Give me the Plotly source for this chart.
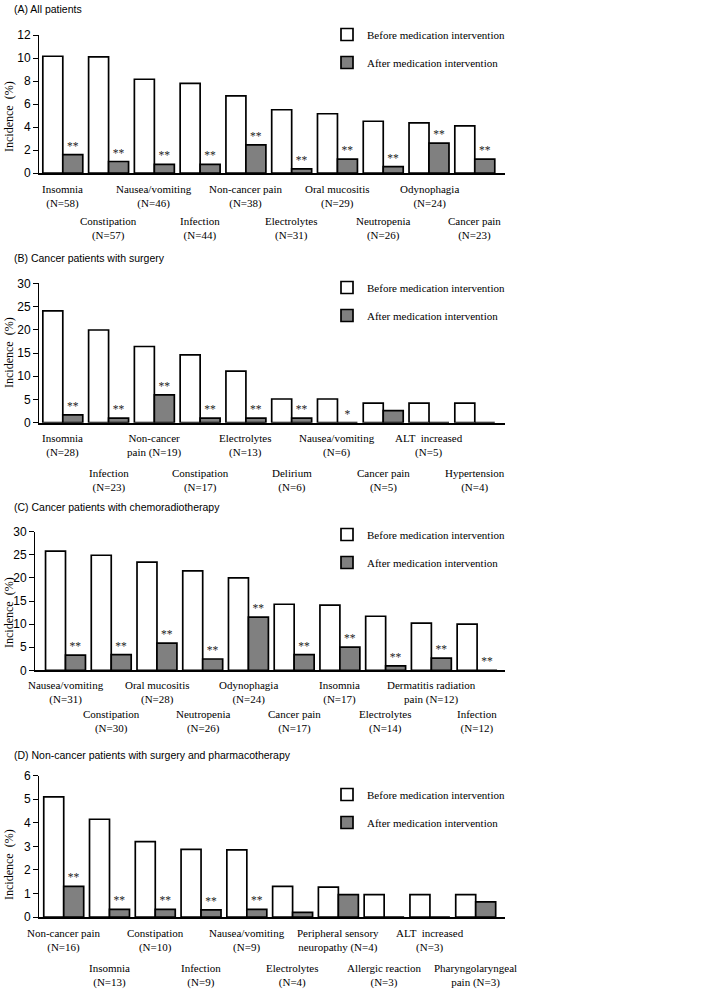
import plotly.graph_objects as go

# ---------------- data ----------------
A_cats = ["Insomnia", "Constipation", "Nausea/vomiting", "Infection", "Non-cancer pain",
          "Electrolytes", "Oral mucositis", "Neutropenia", "Odynophagia", "Cancer pain"]
A_labels = ["Insomnia<br>(N=58)", "Constipation<br>(N=57)", "Nausea/vomiting<br>(N=46)",
            "Infection<br>(N=44)", "Non-cancer pain<br>(N=38)", "Electrolytes<br>(N=31)",
            "Oral mucositis<br>(N=29)", "Neutropenia<br>(N=26)", "Odynophagia<br>(N=24)",
            "Cancer pain<br>(N=23)"]
A_before = [10.15, 10.1, 8.15, 7.8, 6.7, 5.5, 5.15, 4.5, 4.35, 4.1]
A_after = [1.6, 1.0, 0.75, 0.75, 2.45, 0.35, 1.2, 0.55, 2.6, 1.2]
A_sig = ["**", "**", "**", "**", "**", "**", "**", "**", "**", "**"]

B_cats = ["Insomnia", "Infection", "Non-cancer pain", "Constipation", "Electrolytes",
          "Delirium", "Nausea/vomiting", "Cancer pain", "ALT increased", "Hypertension"]
B_labels = ["Insomnia<br>(N=28)", "Infection<br>(N=23)", "Non-cancer<br>pain (N=19)",
            "Constipation<br>(N=17)", "Electrolytes<br>(N=13)", "Delirium<br>(N=6)",
            "Nausea/vomiting<br>(N=6)", "Cancer pain<br>(N=5)", "ALT  increased<br>(N=5)",
            "Hypertension<br>(N=4)"]
B_before = [24.05, 19.95, 16.4, 14.6, 11.1, 5.1, 5.1, 4.2, 4.2, 4.2]
B_after = [1.7, 1.0, 6.0, 1.0, 1.0, 1.0, 0, 2.6, 0, 0]
B_sig = ["**", "**", "**", "**", "**", "**", "*", "", "", ""]

C_cats = ["Nausea/vomiting", "Constipation", "Oral mucositis", "Neutropenia", "Odynophagia",
          "Cancer pain", "Insomnia", "Electrolytes", "Dermatitis radiation pain", "Infection"]
C_labels = ["Nausea/vomiting<br>(N=31)", "Constipation<br>(N=30)", "Oral mucositis<br>(N=28)",
            "Neutropenia<br>(N=26)", "Odynophagia<br>(N=24)", "Cancer pain<br>(N=17)",
            "Insomnia<br>(N=17)", "Electrolytes<br>(N=14)", "Dermatitis radiation<br>pain (N=12)",
            "Infection<br>(N=12)"]
C_before = [25.8, 24.9, 23.4, 21.5, 20.0, 14.3, 14.1, 11.7, 10.2, 10.0]
C_after = [3.3, 3.4, 5.9, 2.45, 11.5, 3.4, 5.0, 0.95, 2.65, 0]
C_sig = ["**", "**", "**", "**", "**", "**", "**", "**", "**", "**"]

D_cats = ["Non-cancer pain", "Insomnia", "Constipation", "Infection", "Nausea/vomiting",
          "Electrolytes", "Peripheral sensory neuropathy", "Allergic reaction",
          "ALT increased", "Pharyngolaryngeal pain"]
D_labels = ["Non-cancer pain<br>(N=16)", "Insomnia<br>(N=13)", "Constipation<br>(N=10)",
            "Infection<br>(N=9)", "Nausea/vomiting<br>(N=9)", "Electrolytes<br>(N=4)",
            "Peripheral sensory<br>neuropathy (N=4)", "Allergic reaction<br>(N=3)",
            "ALT  increased<br>(N=3)", "Pharyngolaryngeal<br>pain (N=3)"]
D_before = [5.1, 4.15, 3.2, 2.87, 2.85, 1.3, 1.27, 0.95, 0.95, 0.95]
D_after = [1.3, 0.32, 0.32, 0.3, 0.32, 0.2, 0.95, 0, 0, 0.64]
D_sig = ["**", "**", "**", "**", "**", "", "", "", "", ""]

titles = ["(A) All patients", "(B) Cancer patients with surgery",
          "(C) Cancer patients with chemoradiotherapy",
          "(D) Non-cancer patients with surgery and pharmacotherapy"]
series_names = ["Before medication intervention", "After medication intervention"]
y_title = "Incidence  (%)"

# ---------------- layout geometry (window pixels) ----------------
W, H = 704, 995


def px(x):
    return x / W


def py(y):
    return 1 - y / H


panels = [
    dict(cats=A_cats, labels=A_labels, before=A_before, after=A_after, sig=A_sig,
         x0=39, x1=505, y0=173, y1=35, ymax=12, dtick=2, xr=[-0.52, 9.66],
         title_y=8.5, ytitle_y=117, leg_y=35, row1=24, row2=55.5),
    dict(cats=B_cats, labels=B_labels, before=B_before, after=B_after, sig=B_sig,
         x0=39, x1=505, y0=422.7, y1=283.3, ymax=30, dtick=5, xr=[-0.52, 9.66],
         title_y=258, ytitle_y=353, leg_y=288, row1=23, row2=58),
    dict(cats=C_cats, labels=C_labels, before=C_before, after=C_after, sig=C_sig,
         x0=35, x1=505, y0=670.3, y1=531.7, ymax=30, dtick=5, xr=[-0.667, 9.61],
         title_y=507, ytitle_y=613, leg_y=535, row1=22, row2=51.5),
    dict(cats=D_cats, labels=D_labels, before=D_before, after=D_after, sig=D_sig,
         x0=39, x1=505, y0=917, y1=775.7, ymax=6, dtick=1, xr=[-0.54, 9.64],
         title_y=755, ytitle_y=865, leg_y=795, row1=23.5, row2=58.5),
]

SERIF = "Liberation Serif, Times New Roman, serif"
SANS = "Liberation Sans, Arial, sans-serif"

fig = go.Figure()
layout = dict(
    width=W, height=H,
    margin=dict(l=0, r=0, t=0, b=0, autoexpand=False),
    paper_bgcolor="white", plot_bgcolor="white",
    barmode="group", bargap=0.127, bargroupgap=0,
    font=dict(family=SERIF, color="black"),
    annotations=[],
)

for i, p in enumerate(panels):
    k = "" if i == 0 else str(i + 1)
    leg = "legend" + k
    fig.add_trace(go.Bar(
        x=p["cats"], y=p["before"], name=series_names[0],
        marker=dict(color="white", line=dict(color="black", width=1.7)),
        xaxis="x" + k, yaxis="y" + k, legend=leg, legendgroup=f"b{i}",
    ))
    fig.add_trace(go.Bar(
        x=p["cats"], y=p["after"], name=series_names[1],
        marker=dict(color="#808080", line=dict(color="black", width=1.7)),
        text=p["sig"], textposition="outside", textangle=0, constraintext="none",
        textfont=dict(family=SERIF, size=11.5, color="#222222"), cliponaxis=False,
        xaxis="x" + k, yaxis="y" + k, legend=leg, legendgroup=f"a{i}",
    ))

    layout["xaxis" + k] = dict(
        domain=[px(p["x0"]), px(p["x1"])], anchor="y" + k, type="category",
        range=p["xr"], showline=True, linecolor="black", linewidth=2,
        showticklabels=False, ticks="", showgrid=False, zeroline=False,
        automargin=False,
    )
    layout["yaxis" + k] = dict(
        domain=[py(p["y0"]), py(p["y1"])], anchor="x" + k, range=[0, p["ymax"]],
        dtick=p["dtick"], tick0=0, showline=True, linecolor="black", linewidth=1,
        ticks="outside", ticklen=5, tickcolor="black", tickwidth=1,
        tickfont=dict(family=SANS, size=12, color="black"),
        showgrid=False, zeroline=False, automargin=False,
    )
    layout[leg] = dict(
        x=px(327), y=py(p["leg_y"] - 15), xanchor="left", yanchor="top",
        font=dict(family=SERIF, size=11, color="black"),
        bgcolor="rgba(0,0,0,0)", tracegroupgap=9, traceorder="grouped",
    )

    # panel title
    layout["annotations"].append(dict(
        text=titles[i], x=px(12), y=py(p["title_y"]), xref="paper", yref="paper",
        xanchor="left", yanchor="middle", showarrow=False,
        font=dict(family=SANS, size=10.5, color="black"),
    ))
    # y-axis title
    layout["annotations"].append(dict(
        text=y_title, x=px(9), y=py(p["ytitle_y"]), xref="paper", yref="paper",
        xanchor="center", yanchor="middle", textangle=-90, showarrow=False,
        font=dict(family=SERIF, size=12, color="black"),
    ))
    # staggered category labels
    for j, (c, lab) in enumerate(zip(p["cats"], p["labels"])):
        off = p["row1"] if j % 2 == 0 else p["row2"]
        layout["annotations"].append(dict(
            text=lab, x=c, y=0, xref="x" + k, yref=f"y{k} domain",
            xanchor="center", yanchor="middle", yshift=-off, showarrow=False,
            align="center", font=dict(family=SERIF, size=11, color="black"),
        ))

fig.update_layout(**layout)
fig.write_html("out.html", config={"displayModeBar": False},
               post_script="document.body.style.margin='0px';")
